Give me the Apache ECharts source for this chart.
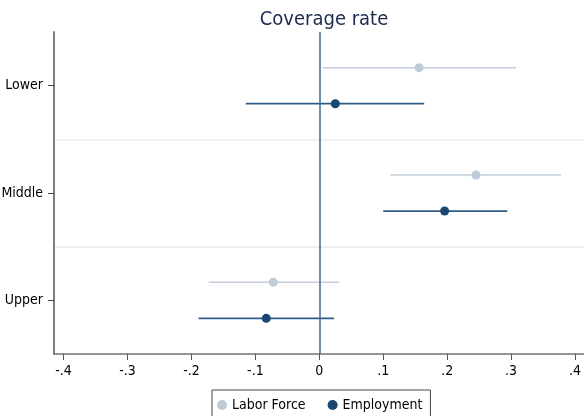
<!DOCTYPE html>
<html>
<head>
<meta charset="utf-8">
<script src="https://cdn.jsdelivr.net/npm/echarts@6/dist/echarts.min.js"></script>
<style>html,body{margin:0;padding:0;background:#fff;}#c{width:584px;height:416px;}</style>
</head>
<body>
<div id="c"></div>
<script>
const categories = ['Lower', 'Middle', 'Upper'];
const xTicks = [-0.4, -0.3, -0.2, -0.1, 0, 0.1, 0.2, 0.3, 0.4];
// [low, point, high] per category
const laborForce = [
  [0.005, 0.156, 0.308],
  [0.111, 0.245, 0.378],
  [-0.173, -0.072, 0.031]
];
const employment = [
  [-0.115, 0.025, 0.164],
  [0.100, 0.196, 0.294],
  [-0.189, -0.083, 0.023]
];

const FONT = '"Liberation Sans Narrow", "DejaVu Sans Condensed", "Liberation Sans", Arial, sans-serif';

function makeRender(offset, lineColor, lineWidth, dotColor, r) {
  return function (params, api) {
    const cat = api.value(0);
    const band = api.size([0, 1])[1];
    const pLo = api.coord([api.value(1), cat]);
    const pPt = api.coord([api.value(2), cat]);
    const pHi = api.coord([api.value(3), cat]);
    const y = pPt[1] + offset * band;
    return {
      type: 'group',
      children: [
        { type: 'line', shape: { x1: pLo[0], y1: y, x2: pHi[0], y2: y },
          style: { stroke: lineColor, lineWidth: lineWidth } },
        { type: 'circle', shape: { cx: pPt[0], cy: y, r: r },
          style: { fill: dotColor } }
      ]
    };
  };
}

function toData(arr) {
  return arr.map((v, i) => [i, v[0], v[1], v[2]]);
}

const chart = echarts.init(document.getElementById('c'), null, { renderer: 'canvas' });
chart.setOption({
  animation: false,
  backgroundColor: '#ffffff',
  title: {
    text: 'Coverage rate',
    left: 319, textAlign: 'center',
    top: 5,
    textStyle: { fontFamily: FONT, fontSize: 20, fontWeight: 'normal', color: '#1c2a4f' }
  },
  legend: {
    left: 212, top: 390,
    data: ['Labor Force', 'Employment'],
    icon: 'circle', itemWidth: 10, itemHeight: 10, itemGap: 22,
    borderColor: '#444', borderWidth: 1, borderRadius: 0,
    padding: [8, 8, 14, 5],
    textStyle: { fontFamily: FONT, fontSize: 14, color: '#000' }
  },
  grid: { left: 54, right: 0, top: 32, bottom: 62, containLabel: false, outerBoundsMode: 'none' },
  xAxis: {
    type: 'value', min: -0.415, max: 0.414,
    splitLine: { show: false },
    axisLine: { show: true, lineStyle: { color: '#777', width: 1.5 } },
    axisTick: { show: true, length: 6, customValues: xTicks, lineStyle: { color: '#555' } },
    axisLabel: {
      customValues: xTicks, margin: 10,
      fontFamily: FONT, fontSize: 14, color: '#000',
      formatter: function (v) {
        const r = Math.round(v * 10) / 10;
        if (r === 0) return '0';
        return String(r).replace('0.', '.');
      }
    }
  },
  yAxis: {
    type: 'category', data: categories, inverse: true,
    axisLine: { show: true, onZero: false, lineStyle: { color: '#808080', width: 2 } },
    axisTick: { show: true, alignWithLabel: true, length: 6, lineStyle: { color: '#444' } },
    axisLabel: { margin: 11, fontFamily: FONT, fontSize: 14, color: '#000' },
    splitLine: {
      show: true,
      interval: function (index) { return index !== 0; },
      lineStyle: { color: '#e8ecee', width: 1.5 }
    }
  },
  series: [
    {
      name: 'Labor Force', type: 'custom',
      itemStyle: { color: '#bfcbd7' },
      encode: { y: 0, x: [1, 2, 3] },
      renderItem: makeRender(-0.168, '#c3ced9', 1.5, '#bfcbd7', 4.5),
      data: toData(laborForce),
      markLine: {
        silent: true, symbol: ['none', 'none'], label: { show: false },
        lineStyle: { color: '#3d6a93', width: 1.5, type: 'solid' },
        data: [{ xAxis: 0 }]
      },
      z: 3
    },
    {
      name: 'Employment', type: 'custom',
      itemStyle: { color: '#1a476f' },
      encode: { y: 0, x: [1, 2, 3] },
      renderItem: makeRender(0.168, '#2f5c86', 1.8, '#1a476f', 4.5),
      data: toData(employment),
      z: 4
    }
  ]
});
</script>
</body>
</html>
